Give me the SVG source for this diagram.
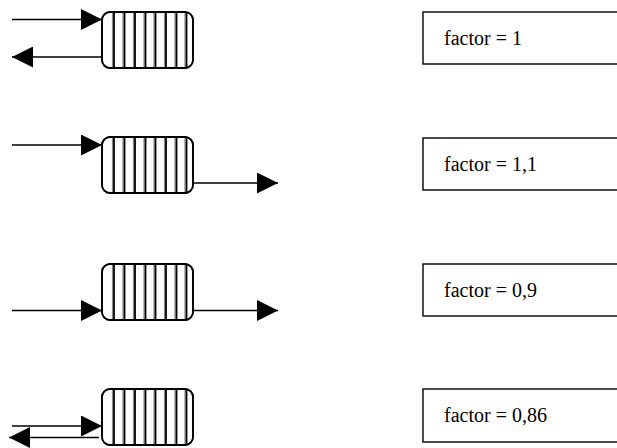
<svg xmlns="http://www.w3.org/2000/svg" width="617" height="448" viewBox="0 0 617 448">
<defs>
<style>
.q{fill:#fff;stroke:#000;stroke-width:1.5}
.o{fill:none;stroke:#000;stroke-width:1.8}
.s{stroke:#000;stroke-width:1.8}
.g{stroke:#888;stroke-width:1.2}
.c{stroke:#000;stroke-width:1.7;fill:none;marker-end:url(#ah)}
.b{fill:#fff;stroke:#000;stroke-width:1.4}
.t{font-family:"Liberation Serif","Times New Roman",serif;font-size:20px;fill:#000}
</style>
<marker id="ah" markerUnits="userSpaceOnUse" markerWidth="21" markerHeight="21" refX="21" refY="10.5" orient="auto" viewBox="0 0 21 21">
<path d="M0,0 L21,10.5 L0,21 z" fill="#000"/>
</marker>
<g id="stripes">
<path class="g" d="M112.5,0V56M123,0V56M133.5,0V56M144,0V56M154,0V56M164.5,0V56M175,0V56M185,0V56"/>
<path class="s" d="M114,0V56M124.5,0V56M135,0V56M145.5,0V56M155.5,0V56M166,0V56M176.5,0V56M186.5,0V56"/>
</g>
</defs>
<g id="queue1"><rect class="q" x="102" y="12" width="91" height="56" rx="8"/><use href="#stripes" y="12"/><rect class="o" x="102" y="12" width="91" height="56" rx="8"/></g>
<g id="queue2"><rect class="q" x="102" y="137" width="91" height="56" rx="8"/><use href="#stripes" y="137"/><rect class="o" x="102" y="137" width="91" height="56" rx="8"/></g>
<g id="queue3"><rect class="q" x="102" y="264" width="91" height="56" rx="8"/><use href="#stripes" y="264"/><rect class="o" x="102" y="264" width="91" height="56" rx="8"/></g>
<g id="queue4"><rect class="q" x="102" y="389" width="91" height="56" rx="8"/><use href="#stripes" y="389"/><rect class="o" x="102" y="389" width="91" height="56" rx="8"/></g>
<g id="connectors">
<path class="c" d="M12,19.5H102"/>
<path class="c" d="M102,57H12"/>
<path class="c" d="M12,145H102"/>
<path class="c" d="M193,183H278"/>
<path class="c" d="M12,310.5H102"/>
<path class="c" d="M193,310.5H278"/>
<path class="c" d="M12,426H102"/>
<path class="c" d="M99,437.5H9"/>
</g>
<g id="label1"><rect class="b" x="423" y="12" width="200" height="52"/><text class="t" x="444" y="45">factor = 1</text></g>
<g id="label2"><rect class="b" x="423" y="138" width="200" height="52"/><text class="t" x="444" y="171">factor = 1,1</text></g>
<g id="label3"><rect class="b" x="423" y="264" width="200" height="52"/><text class="t" x="444" y="297">factor = 0,9</text></g>
<g id="label4"><rect class="b" x="423" y="389" width="200" height="53"/><text class="t" x="444" y="422">factor = 0,86</text></g>
</svg>
